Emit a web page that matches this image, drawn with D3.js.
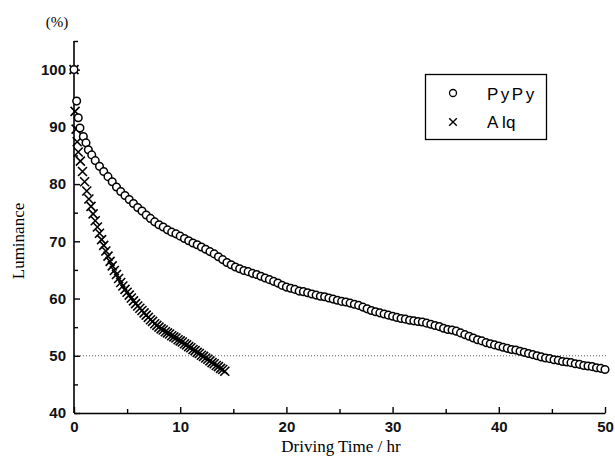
<!DOCTYPE html>
<html>
<head>
<meta charset="utf-8">
<script src="https://cdn.jsdelivr.net/npm/d3@7"></script>
<style>
  body { margin: 0; background: #fff; }
  svg { display: block; }
  .tick text { font-family: "Liberation Sans", Arial, sans-serif; font-size: 15px; font-weight: bold; fill: #111; }
  .domain, .tick line { stroke: #000; }
</style>
</head>
<body>
<script>
// values: [hours, luminance %]
var pypy = [
  [0, 100], [0.25, 94.5], [0.4, 91.6], [0.56, 89.8], [0.88, 88.3], [1.13, 87.2], [1.35, 86.0], [1.67, 85.1],
  [2.0, 84.1], [2.4, 83.1], [2.8, 82.2], [3.2, 81.3], [3.6, 80.4], [4.0, 79.5], [4.4, 78.7], [4.8, 78.0],
  [5.2, 77.3], [5.6, 76.6], [6.0, 75.9], [6.4, 75.3], [6.8, 74.6], [7.2, 74.0], [7.6, 73.4], [8.0, 72.9],
  [8.4, 72.5], [8.8, 72.0], [9.2, 71.6], [9.6, 71.3], [10.0, 70.9], [10.4, 70.5], [10.8, 70.1], [11.2, 69.7],
  [11.6, 69.4], [12.0, 69.0], [12.4, 68.6], [12.8, 68.2], [13.2, 67.8], [13.6, 67.3], [14.0, 66.8], [14.4, 66.3],
  [14.8, 65.9], [15.2, 65.5], [15.6, 65.2], [16.0, 64.9], [16.4, 64.7], [16.8, 64.4], [17.2, 64.2], [17.6, 63.9],
  [18.0, 63.6], [18.4, 63.3], [18.8, 63.0], [19.2, 62.7], [19.6, 62.3], [20.0, 62.0], [20.4, 61.8], [20.8, 61.6],
  [21.2, 61.3], [21.6, 61.2], [22.0, 61.0], [22.4, 60.8], [22.8, 60.6], [23.2, 60.4], [23.6, 60.3], [24.0, 60.1],
  [24.4, 59.9], [24.8, 59.7], [25.2, 59.5], [25.6, 59.4], [26.0, 59.2], [26.4, 59.0], [26.8, 58.8], [27.2, 58.5],
  [27.6, 58.2], [28.0, 57.9], [28.4, 57.7], [28.8, 57.5], [29.2, 57.3], [29.6, 57.1], [30.0, 56.9], [30.4, 56.7],
  [30.8, 56.5], [31.2, 56.4], [31.6, 56.2], [32.0, 56.1], [32.4, 56.0], [32.8, 55.9], [33.2, 55.7], [33.6, 55.5],
  [34.0, 55.3], [34.4, 55.1], [34.8, 54.8], [35.2, 54.6], [35.6, 54.5], [36.0, 54.3], [36.4, 54.0], [36.8, 53.7],
  [37.2, 53.4], [37.6, 53.1], [38.0, 52.8], [38.4, 52.6], [38.8, 52.3], [39.2, 52.1], [39.6, 51.9], [40.0, 51.7],
  [40.4, 51.5], [40.8, 51.3], [41.2, 51.1], [41.6, 51.0], [42.0, 50.8], [42.4, 50.6], [42.8, 50.4], [43.2, 50.2],
  [43.6, 50.0], [44.0, 49.8], [44.4, 49.6], [44.8, 49.5], [45.2, 49.3], [45.6, 49.2], [46.0, 49.0], [46.4, 48.9],
  [46.8, 48.8], [47.2, 48.6], [47.6, 48.5], [48.0, 48.3], [48.4, 48.2], [48.8, 48.1], [49.2, 47.9], [49.6, 47.8],
  [50.0, 47.6]
];

var alq = [
  [0, 100], [0.1, 92.7], [0.2, 89.6], [0.3, 87.4], [0.4, 85.6], [0.6, 84.0], [0.8, 82.2], [1.0, 80.4],
  [1.2, 78.8], [1.4, 77.4], [1.6, 76.1], [1.8, 74.8], [2.0, 73.6], [2.2, 72.5], [2.4, 71.4], [2.6, 70.3],
  [2.8, 69.3], [3.0, 68.3], [3.2, 67.4], [3.4, 66.5], [3.6, 65.7], [3.8, 64.9], [4.0, 64.2], [4.2, 63.5],
  [4.4, 62.8], [4.6, 62.2], [4.8, 61.6], [5.0, 61.1], [5.2, 60.6], [5.4, 60.1], [5.6, 59.6], [5.8, 59.1],
  [6.0, 58.7], [6.2, 58.3], [6.4, 57.9], [6.6, 57.5], [6.8, 57.1], [7.0, 56.7], [7.2, 56.3], [7.4, 56.0],
  [7.6, 55.6], [7.8, 55.3], [8.0, 55.0], [8.2, 54.7], [8.4, 54.5], [8.6, 54.2], [8.8, 54.0], [9.0, 53.8],
  [9.2, 53.5], [9.4, 53.3], [9.6, 53.1], [9.8, 52.8], [10.0, 52.6], [10.2, 52.4], [10.4, 52.1], [10.6, 51.9],
  [10.8, 51.6], [11.0, 51.4], [11.2, 51.1], [11.4, 50.9], [11.6, 50.6], [11.8, 50.4], [12.0, 50.1], [12.2, 49.9],
  [12.4, 49.6], [12.6, 49.4], [12.8, 49.1], [13.0, 48.8], [13.2, 48.6], [13.4, 48.3], [13.6, 48.1], [13.8, 47.8],
  [14.0, 47.6], [14.2, 47.3]
];

var xTicks = [0, 10, 20, 30, 40, 50];
var xMinor = [5, 15, 25, 35, 45];
var yTicks = [40, 50, 60, 70, 80, 90, 100];
var yMinor = [45, 55, 65, 75, 85, 95, 105];
var halfLine = 50;
var legendNames = ["PyPy", "A lq"];

var width = 615, height = 468;

var x = d3.scaleLinear().domain([0, 50]).range([74, 605]);
var y = d3.scaleLinear().domain([40, 105]).range([413, 41]);

var svg = d3.select("body").append("svg")
  .attr("width", width)
  .attr("height", height);

// dotted 50% line
svg.append("line")
  .attr("x1", x(0)).attr("x2", x(50) + 3)
  .attr("y1", y(halfLine)).attr("y2", y(halfLine))
  .attr("stroke", "#333")
  .attr("stroke-width", 0.8)
  .attr("stroke-dasharray", "1,2");

// axes, ticks point inward
svg.append("g")
  .attr("transform", "translate(0," + y(40) + ")")
  .call(d3.axisBottom(x).tickValues(xTicks).tickSize(-6).tickSizeOuter(0).tickPadding(8));
svg.append("g")
  .attr("transform", "translate(0," + y(40) + ")")
  .call(d3.axisBottom(x).tickValues(xMinor).tickSize(-4).tickSizeOuter(0).tickFormat(""))
  .select(".domain").remove();

var yAxis = svg.append("g")
  .attr("transform", "translate(" + x(0) + ",0)")
  .call(d3.axisLeft(y).tickValues(yTicks).tickSize(-6).tickSizeOuter(0).tickPadding(8));
svg.append("g")
  .attr("transform", "translate(" + x(0) + ",0)")
  .call(d3.axisLeft(y).tickValues(yMinor).tickSize(-4).tickSizeOuter(0).tickFormat(""))
  .select(".domain").remove();

// y axis line runs up to 105
yAxis.select(".domain").attr("d", "M0," + y(105) + "V" + y(40));
svg.selectAll(".domain").attr("stroke-width", 1.6);
svg.selectAll(".tick line").attr("stroke-width", 1.4);

// axis titles
svg.append("text")
  .attr("x", 341).attr("y", 452)
  .attr("text-anchor", "middle")
  .attr("font-family", "'Liberation Serif', 'Times New Roman', serif")
  .attr("font-size", 17)
  .text("Driving Time / hr");

svg.append("text")
  .attr("transform", "translate(24," + 241 + ") rotate(-90)")
  .attr("text-anchor", "middle")
  .attr("font-family", "'Liberation Serif', 'Times New Roman', serif")
  .attr("font-size", 17)
  .text("Luminance");

svg.append("text")
  .attr("x", 57).attr("y", 27)
  .attr("text-anchor", "middle")
  .attr("font-family", "'Liberation Serif', 'Times New Roman', serif")
  .attr("font-size", 15)
  .text("(%)");

function crossPath(s) {
  return "M" + (-s) + "," + (-s) + "L" + s + "," + s + "M" + (-s) + "," + s + "L" + s + "," + (-s);
}

// Alq crosses
svg.append("g").selectAll("path")
  .data(alq)
  .enter().append("path")
  .attr("transform", function(d) { return "translate(" + x(d[0]) + "," + y(d[1]) + ")"; })
  .attr("d", crossPath(4.5))
  .attr("fill", "none")
  .attr("stroke", "#000")
  .attr("stroke-width", 1.6);

// PyPy circles, white filled so they overlap like rings
svg.append("g").selectAll("circle")
  .data(pypy)
  .enter().append("circle")
  .attr("cx", function(d) { return x(d[0]); })
  .attr("cy", function(d) { return y(d[1]); })
  .attr("r", 3.8)
  .attr("fill", "#fff")
  .attr("stroke", "#000")
  .attr("stroke-width", 1.5);

// legend
var legend = svg.append("g");
legend.append("rect")
  .attr("x", 425.5).attr("y", 74.5)
  .attr("width", 121).attr("height", 65)
  .attr("fill", "#fff")
  .attr("stroke", "#000")
  .attr("stroke-width", 1.3);

legend.append("circle")
  .attr("cx", 453).attr("cy", 93)
  .attr("r", 3.5)
  .attr("fill", "#fff")
  .attr("stroke", "#000")
  .attr("stroke-width", 1.3);

legend.append("path")
  .attr("transform", "translate(453,122)")
  .attr("d", crossPath(3.8))
  .attr("stroke", "#000")
  .attr("stroke-width", 1.4);

legend.selectAll("text.name")
  .data(legendNames)
  .enter().append("text")
  .attr("class", "name")
  .attr("x", 487)
  .attr("y", function(d, i) { return 100 + i * 28; })
  .attr("font-family", "'Liberation Sans', Arial, sans-serif")
  .attr("font-size", 17)
  .attr("letter-spacing", function(d, i) { return i === 0 ? 2.5 : 0; })
  .text(function(d) { return d; });
</script>
</body>
</html>
